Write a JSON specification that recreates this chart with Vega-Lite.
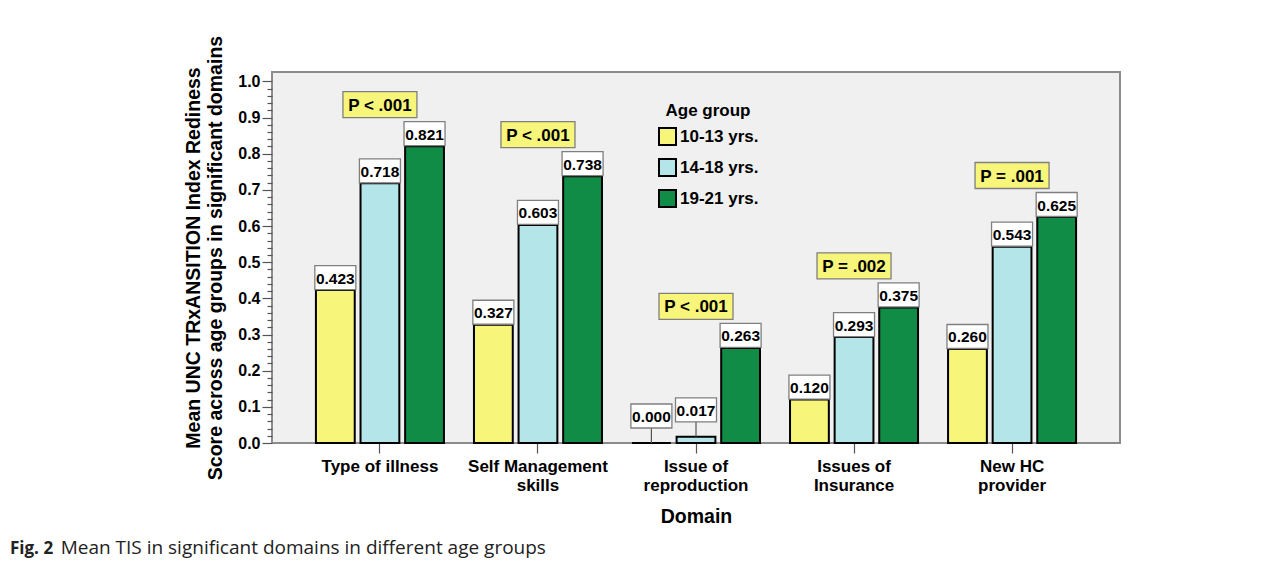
{
  "$schema": "https://vega.github.io/schema/vega-lite/v6.json",
  "width": 848,
  "height": 371,
  "autosize": {"type": "none"},
  "padding": {"left": 272, "top": 72, "right": 167, "bottom": 118},
  "background": "white",
  "config": {
    "font": "Liberation Sans",
    "view": {"fill": "#F0F0F0", "stroke": "#8C8C8C", "strokeWidth": 2}
  },
  "title": {
    "text": "Fig. 2",
    "subtitle": "\u200B\u2003\u2003\u2002\u2009Mean TIS in significant domains in different age groups",
    "orient": "bottom",
    "anchor": "start",
    "frame": "group",
    "dx": -262,
    "offset": 15,
    "font": "Open Sans",
    "fontSize": 17,
    "fontWeight": "bold",
    "color": "#222222",
    "subtitleFont": "Open Sans",
    "subtitleFontSize": 19,
    "subtitleFontWeight": "normal",
    "subtitleColor": "#222222",
    "subtitlePadding": -19
  },
  "datasets": {
    "pvals": [
      {"domain": "Type of illness", "p": "P < .001"},
      {"domain": "Self Management skills", "p": "P < .001"},
      {"domain": "Issue of reproduction", "p": "P < .001"},
      {"domain": "Issues of Insurance", "p": "P = .002"},
      {"domain": "New HC provider", "p": "P = .001"}
    ]
  },
  "data": {
    "values": [
      {"domain": "Type of illness", "group": "10-13 yrs.", "value": 0.423},
      {"domain": "Type of illness", "group": "14-18 yrs.", "value": 0.718},
      {"domain": "Type of illness", "group": "19-21 yrs.", "value": 0.821},
      {"domain": "Self Management skills", "group": "10-13 yrs.", "value": 0.327},
      {"domain": "Self Management skills", "group": "14-18 yrs.", "value": 0.603},
      {"domain": "Self Management skills", "group": "19-21 yrs.", "value": 0.738},
      {"domain": "Issue of reproduction", "group": "10-13 yrs.", "value": 0.000},
      {"domain": "Issue of reproduction", "group": "14-18 yrs.", "value": 0.017},
      {"domain": "Issue of reproduction", "group": "19-21 yrs.", "value": 0.263},
      {"domain": "Issues of Insurance", "group": "10-13 yrs.", "value": 0.120},
      {"domain": "Issues of Insurance", "group": "14-18 yrs.", "value": 0.293},
      {"domain": "Issues of Insurance", "group": "19-21 yrs.", "value": 0.375},
      {"domain": "New HC provider", "group": "10-13 yrs.", "value": 0.260},
      {"domain": "New HC provider", "group": "14-18 yrs.", "value": 0.543},
      {"domain": "New HC provider", "group": "19-21 yrs.", "value": 0.625}
    ]
  },
  "encoding": {
    "x": {
      "field": "domain",
      "type": "nominal",
      "sort": ["Type of illness", "Self Management skills", "Issue of reproduction", "Issues of Insurance", "New HC provider"],
      "scale": {"paddingInner": 0.19, "paddingOuter": 0.278},
      "axis": {
        "title": "Domain",
        "titleFontSize": 19.5,
        "titleFontWeight": "bold",
        "titleColor": "black",
        "titlePadding": 14,
        "labelAngle": 0,
        "labelFontSize": 17,
        "labelFontWeight": "bold",
        "labelColor": "black",
        "labelLineHeight": 19,
        "labelPadding": 5,
        "tickSize": 10,
        "tickColor": "#555555",
        "tickWidth": 1.2,
        "domain": false,
        "labelExpr": "datum.value == 'Self Management skills' ? ['Self Management', 'skills'] : datum.value == 'Issue of reproduction' ? ['Issue of', 'reproduction'] : datum.value == 'Issues of Insurance' ? ['Issues of', 'Insurance'] : datum.value == 'New HC provider' ? ['New HC', 'provider'] : datum.value"
      }
    },
    "y": {
      "field": "value",
      "type": "quantitative",
      "scale": {"domain": [0, 1.026], "nice": false},
      "axis": {
        "title": ["Mean UNC TRxANSITION Index Rediness", "Score across age groups in significant domains"],
        "titleFontSize": 19.5,
        "titleFontWeight": "bold",
        "titleColor": "black",
        "titleLineHeight": 22,
        "titlePadding": 12,
        "values": [0, 0.02, 0.04, 0.06, 0.08, 0.1, 0.12, 0.14, 0.16, 0.18, 0.2, 0.22, 0.24, 0.26, 0.28, 0.3, 0.32, 0.34, 0.36, 0.38, 0.4, 0.42, 0.44, 0.46, 0.48, 0.5, 0.52, 0.54, 0.56, 0.58, 0.6, 0.62, 0.64, 0.66, 0.68, 0.7, 0.72, 0.74, 0.76, 0.78, 0.8, 0.82, 0.84, 0.86, 0.88, 0.9, 0.92, 0.94, 0.96, 0.98, 1.0],
        "labelExpr": "abs(datum.value * 10 - round(datum.value * 10)) < 0.001 ? format(datum.value, '.1f') : ''",
        "labelFontSize": 16,
        "labelFontWeight": "bold",
        "labelColor": "black",
        "labelPadding": 2,
        "labelOverlap": false,
        "tickSize": {"condition": {"test": "abs(datum.value * 10 - round(datum.value * 10)) < 0.001", "value": 10}, "value": 5},
        "tickColor": "#555555",
        "tickWidth": 1.2,
        "domain": false,
        "grid": false
      }
    }
  },
  "layer": [
    {
      "mark": {"type": "bar", "stroke": "black", "strokeWidth": 2},
      "encoding": {
        "xOffset": {"field": "group", "type": "nominal", "sort": ["10-13 yrs.", "14-18 yrs.", "19-21 yrs."], "scale": {"paddingInner": 0.13}},
        "color": {
          "field": "group",
          "type": "nominal",
          "sort": ["10-13 yrs.", "14-18 yrs.", "19-21 yrs."],
          "scale": {"domain": ["10-13 yrs.", "14-18 yrs.", "19-21 yrs."], "range": ["#F7F57A", "#B4E5E8", "#108C46"]},
          "legend": {
            "orient": "none",
            "legendX": 386,
            "legendY": 31,
            "title": "Age group",
            "titleFontSize": 17,
            "titleFontWeight": "bold",
            "titleColor": "black",
            "titleAnchor": "middle",
            "titlePadding": 7,
            "symbolType": "square",
            "symbolSize": 289,
            "symbolStrokeColor": "black",
            "symbolStrokeWidth": 2,
            "symbolOpacity": 1,
            "labelFontSize": 17,
            "labelFontWeight": "bold",
            "labelColor": "black",
            "labelOffset": 3,
            "rowPadding": 6,
            "padding": 0
          }
        }
      }
    },
    {
      "transform": [{"filter": "datum.value >= 0.05"}],
      "mark": {"type": "point", "shape": "M-1,-0.585H1V0.585H-1Z", "size": 1681, "filled": true, "fill": "white", "stroke": "#7F7F7F", "strokeWidth": 1.3, "opacity": 1, "yOffset": -12.5},
      "encoding": {"xOffset": {"field": "group", "type": "nominal", "sort": ["10-13 yrs.", "14-18 yrs.", "19-21 yrs."]}}
    },
    {
      "transform": [{"filter": "datum.value >= 0.05"}],
      "mark": {"type": "text", "font": "Liberation Sans", "fontSize": 15.5, "fontWeight": "bold", "color": "black", "baseline": "middle", "align": "center", "yOffset": -11.5},
      "encoding": {
        "xOffset": {"field": "group", "type": "nominal", "sort": ["10-13 yrs.", "14-18 yrs.", "19-21 yrs."]},
        "text": {"field": "value", "type": "quantitative", "format": ".3f"}
      }
    },
    {
      "transform": [{"filter": "datum.value < 0.05"}],
      "mark": {"type": "rule", "color": "#555555", "strokeWidth": 1.2, "y2Offset": -15},
      "encoding": {
        "xOffset": {"field": "group", "type": "nominal", "sort": ["10-13 yrs.", "14-18 yrs.", "19-21 yrs."]},
        "y2": {"field": "value"}
      }
    },
    {
      "transform": [{"filter": "datum.value < 0.05"}],
      "mark": {"type": "point", "shape": "M-1,-0.585H1V0.585H-1Z", "size": 1681, "filled": true, "fill": "white", "stroke": "#7F7F7F", "strokeWidth": 1.3, "opacity": 1, "yOffset": -27},
      "encoding": {"xOffset": {"field": "group", "type": "nominal", "sort": ["10-13 yrs.", "14-18 yrs.", "19-21 yrs."]}}
    },
    {
      "transform": [{"filter": "datum.value < 0.05"}],
      "mark": {"type": "text", "font": "Liberation Sans", "fontSize": 15.5, "fontWeight": "bold", "color": "black", "baseline": "middle", "align": "center", "yOffset": -26},
      "encoding": {
        "xOffset": {"field": "group", "type": "nominal", "sort": ["10-13 yrs.", "14-18 yrs.", "19-21 yrs."]},
        "text": {"field": "value", "type": "quantitative", "format": ".3f"}
      }
    },
    {
      "transform": [
        {"filter": "datum.group == '19-21 yrs.'"},
        {"lookup": "domain", "from": {"data": {"name": "pvals"}, "key": "domain", "fields": ["p"]}}
      ],
      "mark": {"type": "point", "shape": "M-1,-0.351H1V0.351H-1Z", "size": 5476, "filled": true, "fill": "#F7F57A", "stroke": "#7F7F7F", "strokeWidth": 1.3, "opacity": 1, "yOffset": -41.5},
      "encoding": {}
    },
    {
      "transform": [
        {"filter": "datum.group == '19-21 yrs.'"},
        {"lookup": "domain", "from": {"data": {"name": "pvals"}, "key": "domain", "fields": ["p"]}}
      ],
      "mark": {"type": "text", "fontSize": 17, "fontWeight": "bold", "color": "black", "baseline": "middle", "align": "center", "yOffset": -40.5},
      "encoding": {"text": {"field": "p", "type": "nominal"}}
    }
  ]
}
